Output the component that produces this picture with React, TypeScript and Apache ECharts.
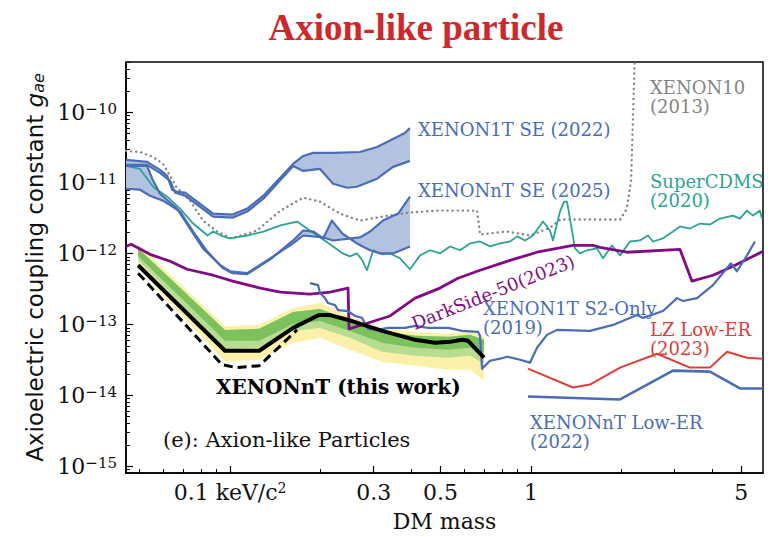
import React, { useEffect, useRef } from 'react';
import * as echarts from 'echarts';

type P = [number, number];

// ---- axis ranges (keV/c^2, g_ae) ----
const X_MIN = 0.0451;
const X_MAX = 5.9;
const Y_MIN = 7.98e-16;
const Y_MAX = 5.12e-10;
const X_MAJOR = [0.1, 0.3, 0.5, 1, 5];
const X_MINOR = [0.05, 0.06, 0.07, 0.08, 0.09, 0.2, 0.4, 0.6, 0.7, 0.8, 0.9, 2, 3, 4];
const Y_MAJOR_EXP = [-15, -14, -13, -12, -11, -10];

// ---- curves: [mass keV/c^2, g_ae] ----
const XENON1T_SE_UPPER: P[] = [
  [0.0451, 2.12e-11], [0.053, 1.99e-11], [0.0585, 1.53e-11], [0.0618, 1.26e-11], [0.0642, 8.03e-12],
  [0.0667, 7.52e-12], [0.0709, 7.29e-12], [0.0777, 5.45e-12], [0.0878, 3.69e-12], [0.102, 3.58e-12],
  [0.114, 4.34e-12], [0.129, 6.61e-12], [0.162, 1.86e-11], [0.175, 2.41e-11], [0.189, 2.66e-11],
  [0.22, 2.66e-11], [0.27, 2.74e-11], [0.308, 3.22e-11], [0.348, 4.18e-11], [0.381, 5.07e-11], [0.396, 5.96e-11],
];
const XENON1T_SE_LOWER: P[] = [
  [0.0451, 1.8e-11], [0.053, 1.8e-11], [0.0585, 1.39e-11], [0.0632, 1.07e-11], [0.0657, 7.29e-12],
  [0.0709, 6.61e-12], [0.0777, 4.94e-12], [0.0878, 3.35e-12], [0.102, 3.24e-12], [0.114, 3.94e-12],
  [0.129, 6.0e-12], [0.162, 1.74e-11], [0.175, 1.48e-11], [0.199, 1.58e-11], [0.22, 9.74e-12],
  [0.245, 8.56e-12], [0.264, 8.84e-12], [0.308, 1.15e-11], [0.348, 1.69e-11], [0.396, 2.05e-11],
];
const XENONNT_SE_UPPER: P[] = [
  [0.0451, 1.74e-11], [0.053, 1.74e-11], [0.0551, 1.15e-11], [0.0585, 7.05e-12], [0.0667, 4.34e-12],
  [0.0736, 2.27e-12], [0.0813, 1.19e-12], [0.0927, 6.87e-13], [0.1, 5.66e-13], [0.114, 5.31e-13],
  [0.136, 8.62e-13], [0.162, 1.4e-12], [0.175, 1.81e-12], [0.204, 1.7e-12], [0.22, 1.54e-12],
  [0.27, 1.7e-12], [0.292, 2.06e-12], [0.322, 2.94e-12], [0.362, 3.69e-12], [0.396, 6.4e-12],
];
const XENONNT_SE_LOWER: P[] = [
  [0.0451, 8.29e-12], [0.0502, 8.03e-12], [0.0542, 6.61e-12], [0.0599, 5.62e-12], [0.0682, 3.94e-12],
  [0.0754, 2.06e-12], [0.0839, 1.08e-12], [0.0948, 6.24e-13], [0.102, 5.31e-13], [0.114, 5.14e-13],
  [0.136, 8.34e-13], [0.162, 1.54e-12], [0.175, 2.13e-12], [0.189, 2.06e-12], [0.204, 1.65e-12],
  [0.218, 2.94e-12], [0.236, 1.93e-12], [0.264, 1.4e-12], [0.292, 1.12e-12], [0.315, 1.01e-12],
  [0.348, 1.01e-12], [0.396, 1.27e-12],
];
const XENON10: P[] = [
  [0.0451, 2.83e-11], [0.0502, 2.74e-11], [0.0555, 2.33e-11], [0.0599, 1.86e-11], [0.0632, 1.26e-11],
  [0.0662, 8.84e-12], [0.0736, 5.62e-12], [0.0813, 2.94e-12], [0.0905, 2.06e-12], [0.101, 1.65e-12],
  [0.123, 2.13e-12], [0.147, 4.07e-12], [0.175, 6.2e-12], [0.199, 5.45e-12], [0.232, 3.69e-12],
  [0.27, 2.94e-12], [0.322, 3.35e-12], [0.396, 3.82e-12], [0.487, 4.07e-12], [0.662, 4.07e-12],
  [0.677, 1.87e-12], [0.832, 2.06e-12], [0.992, 1.81e-12], [1.16, 2.35e-12], [1.25, 3.04e-12],
  [1.98, 3.04e-12], [2.08, 4.34e-12], [2.15, 1.07e-11], [2.18, 7.47e-11], [2.22, 1e-9],
];
const SUPERCDMS: P[] = [
  [0.0451, 1.74e-11], [0.0502, 1.58e-11], [0.0555, 8.84e-12], [0.0618, 6.4e-12], [0.0682, 4.34e-12],
  [0.0754, 2.67e-12], [0.0842, 1.81e-12], [0.0878, 2.06e-12], [0.0948, 1.76e-12], [0.1, 1.65e-12],
  [0.114, 1.81e-12], [0.129, 2.06e-12], [0.147, 2.51e-12], [0.167, 2.85e-12], [0.184, 2.13e-12],
  [0.195, 1.81e-12], [0.22, 1.27e-12], [0.237, 1.01e-12], [0.25, 9.19e-13], [0.264, 1.01e-12],
  [0.275, 8.08e-13], [0.285, 5.85e-13], [0.299, 1.12e-12], [0.322, 9.81e-13], [0.34, 1.01e-12],
  [0.367, 8.62e-13], [0.396, 6.04e-13], [0.428, 9.49e-13], [0.462, 1.12e-12], [0.498, 1.01e-12],
  [0.538, 1.27e-12], [0.581, 1.12e-12], [0.627, 1.4e-12], [0.677, 1.49e-12], [0.731, 1.27e-12],
  [0.789, 1.4e-12], [0.852, 1.49e-12], [0.899, 1.76e-12], [0.955, 1.54e-12], [1.015, 1.81e-12],
  [1.096, 2.85e-12], [1.156, 2.13e-12], [1.183, 1.54e-12], [1.248, 3.94e-12], [1.287, 5.45e-12],
  [1.317, 5.45e-12], [1.347, 3.14e-12], [1.4, 1.19e-12], [1.455, 1.01e-12], [1.535, 1.12e-12],
  [1.657, 1.19e-12], [1.735, 8.62e-13], [1.858, 1.31e-12], [1.976, 9.49e-13], [2.133, 1.49e-12],
  [2.302, 1.54e-12], [2.447, 1.81e-12], [2.543, 1.49e-12], [2.745, 1.65e-12], [2.963, 2.06e-12],
  [3.126, 2.43e-12], [3.375, 2.27e-12], [3.643, 2.67e-12], [3.933, 2.59e-12], [4.246, 3.14e-12],
  [4.69, 3.46e-12], [4.947, 3.14e-12], [5.219, 4.07e-12], [5.465, 3.46e-12], [5.765, 4.07e-12],
  [5.853, 3.14e-12],
];
const DARKSIDE50: P[] = [
  [0.0451, 1.27e-12], [0.0469, 1.36e-12], [0.0542, 9.81e-13], [0.0632, 7.82e-13], [0.072, 6.04e-13],
  [0.0878, 4.97e-13], [0.102, 4.1e-13], [0.126, 3.27e-13], [0.147, 2.87e-13], [0.184, 2.69e-13],
  [0.215, 2.87e-13], [0.2466, 3.27e-13], [0.2485, 8.68e-14], [0.287, 1.05e-13], [0.34, 1.32e-13],
  [0.412, 2.36e-13], [0.498, 3.27e-13], [0.572, 4.51e-13], [0.677, 5.85e-13], [0.832, 7.82e-13],
  [1.047, 1.05e-12], [1.379, 1.31e-12], [1.607, 1.31e-12], [1.695, 1.23e-12], [2.084, 1.05e-12],
  [3.126, 1.15e-12], [3.427, 4.1e-13], [4.024, 4.97e-13], [4.69, 6.65e-13], [5.9, 1.08e-12],
];
const XENON1T_S2: P[] = [
  [0.1844, 3.84e-13], [0.1961, 3.6e-13], [0.199, 2.78e-13], [0.2068, 2.36e-13], [0.2116, 2.01e-13],
  [0.2233, 1.88e-13], [0.2285, 1.6e-13], [0.2466, 1.55e-13], [0.2602, 1.32e-13], [0.2745, 1.24e-13],
  [0.2874, 8.68e-14], [0.3078, 8.4e-14], [0.335, 8.96e-14], [0.381, 8.96e-14], [0.412, 9.56e-14],
  [0.455, 8.96e-14], [0.53, 8.96e-14], [0.59, 8.13e-14], [0.667, 7.87e-14], [0.677, 6.92e-14],
  [0.6875, 2.38e-14], [0.7305, 3.08e-14], [0.789, 3.29e-14], [0.832, 3.51e-14], [0.919, 3.18e-14],
  [0.992, 2.89e-14], [1.047, 4.69e-14], [1.13, 7.14e-14], [1.22, 8.4e-14], [1.57, 8.13e-14],
  [1.873, 9.87e-14], [2.25, 1.36e-13], [2.356, 1.24e-13], [2.745, 1.55e-13], [3.055, 2.36e-13],
  [3.199, 2.15e-13], [3.561, 2.36e-13], [4.024, 3.6e-13], [4.617, 7.33e-13], [4.834, 5.66e-13],
  [5.219, 9.49e-13], [5.548, 1.49e-12],
];
const LZ_LOW_ER: P[] = [
  [0.977, 2.38e-14], [1.379, 1.29e-14], [1.57, 1.42e-14], [1.976, 2.46e-14], [2.622, 3.86e-14],
  [3.375, 2.46e-14], [3.933, 2.46e-14], [4.479, 4.12e-14], [5.219, 3.4e-14], [5.9, 3.29e-14],
];
const XENONNT_LOW_ER: P[] = [
  [0.977, 9.62e-15], [1.976, 8.73e-15], [2.963, 2.23e-14], [3.933, 2.16e-14], [4.947, 1.25e-14], [5.9, 1.25e-14],
];
const THIS_WORK: P[] = [
  [0.0495, 6.87e-13], [0.0962, 4.26e-14], [0.125, 4.26e-14], [0.162, 8.96e-14], [0.1975, 1.36e-13],
  [0.215, 1.36e-13], [0.247, 1.16e-13], [0.32, 8.13e-14], [0.412, 6.08e-14], [0.48, 5.51e-14],
  [0.538, 5.69e-14], [0.59, 6.08e-14], [0.618, 5.89e-14], [0.698, 3.4e-14],
];
const THIS_WORK_DASHED: P[] = [
  [0.0495, 5.31e-13], [0.094, 2.71e-14], [0.105, 2.46e-14], [0.125, 2.62e-14], [0.167, 8.4e-14],
];
// sensitivity bands of this work
const BAND_MASS = [0.0495, 0.0962, 0.125, 0.162, 0.199, 0.25, 0.32, 0.412, 0.53, 0.627, 0.698];
const YELLOW_HI = [1.36e-12, 9.56e-14, 9.87e-14, 1.71e-13, 2.01e-13, 1.32e-13, 8.96e-14, 7.87e-14, 7.38e-14, 8.13e-14, 6.92e-14];
const GREEN_HI = [1.19e-12, 8.4e-14, 8.68e-14, 1.5e-13, 1.66e-13, 1.16e-13, 8.13e-14, 6.92e-14, 6.7e-14, 7.14e-14, 6.08e-14];
const DARK_LO = [9.19e-13, 5.89e-14, 5.89e-14, 1.02e-13, 1.12e-13, 8.13e-14, 5.51e-14, 4.69e-14, 4.4e-14, 4.69e-14, 3.99e-14];
const GREEN_LO = [8.08e-13, 4.4e-14, 4.69e-14, 8.13e-14, 8.96e-14, 6.48e-14, 4.12e-14, 3.62e-14, 3.4e-14, 3.62e-14, 2.8e-14];
const YELLOW_LO = [6.24e-13, 2.98e-14, 3.18e-14, 5.51e-14, 6.48e-14, 4.4e-14, 2.98e-14, 2.62e-14, 2.3e-14, 2.3e-14, 1.61e-14];

const BLUE = '#4a6db5';
const BLUE_FILL = '#b4c2e2';
const TEAL = '#2ca394';
const PURPLE = '#820a82';
const GRAY = '#858585';
const RED = '#da4038';
const SERIF = '"DejaVu Serif", serif';
const SANS = '"DejaVu Sans", sans-serif';

const lg = (p: P) => [Math.log10(p[0]), Math.log10(p[1])];
const zip = (a: number[], b: number[]): P[] => a.map((m, i) => [m, b[i]]);

function lineSeries(data: P[], color: string, width: number, type: any = 'solid', z = 3, cap = 'butt') {
  return {
    type: 'line', data: data.map(lg), showSymbol: false, symbol: 'none', silent: true, z,
    clip: true, lineStyle: { color, width, type, cap, join: 'round' },
  };
}

function polySeries(upper: P[], lower: P[], fill: string, z = 1) {
  const pts = [...upper, ...lower.slice().reverse()].map(lg);
  return {
    type: 'custom', coordinateSystem: 'cartesian2d', xAxisIndex: 0, yAxisIndex: 0, silent: true, z,
    data: [pts[0]],
    renderItem: (_p: any, api: any) => ({
      type: 'polygon',
      shape: { points: pts.map((q) => api.coord(q)) },
      style: { fill, stroke: 'none', lineWidth: 0 },
    }),
  };
}

function minorY(): number[] {
  const out: number[] = [];
  for (let d = -16; d <= -10; d++) {
    for (let k = 2; k <= 9; k++) {
      const v = k * Math.pow(10, d);
      if (v > Y_MIN && v < Y_MAX) out.push(Math.log10(v));
    }
  }
  return out;
}

function txt(x: number, y: number, text: string, fill: string, size = 18, extra: any = {}) {
  return {
    type: 'text', x, y, z: 10, silent: true,
    style: { text, fill, fontFamily: SERIF, fontSize: size, align: 'left', verticalAlign: 'top', lineHeight: 19, ...extra },
  };
}

export default function App() {
  const ref = useRef<HTMLDivElement>(null);
  useEffect(() => {
    document.body.style.margin = '0';
    const chart = echarts.init(ref.current!, null, { renderer: 'svg' });
    const lx0 = Math.log10(X_MIN), lx1 = Math.log10(X_MAX);
    const ly0 = Math.log10(Y_MIN), ly1 = Math.log10(Y_MAX);
    const xMajor = X_MAJOR.map(Math.log10);
    const xMinor = X_MINOR.map(Math.log10);
    const yMajor = Y_MAJOR_EXP.slice();
    const yMinor = minorY();

    const option: any = {
      animation: false,
      backgroundColor: '#fff',
      grid: { left: 126, right: 10, top: 62, bottom: 61, show: true, borderColor: '#000', borderWidth: 1.5, backgroundColor: 'transparent' },
      xAxis: [
        {
          type: 'value', min: lx0, max: lx1, position: 'bottom',
          axisLine: { show: true, onZero: false, lineStyle: { color: '#000', width: 1.5 } },
          splitLine: { show: false },
          axisTick: { show: true, inside: true, length: 7, lineStyle: { color: '#000', width: 1.2 }, customValues: xMajor },
          axisLabel: {
            customValues: xMajor, margin: 8, color: '#111', fontFamily: SERIF, fontSize: 22,
            formatter: (v: number) => {
              const m = Math.pow(10, v);
              if (Math.abs(m - 0.1) < 1e-6) return '0.1 keV/c{sup|2}';
              return String(+m.toPrecision(3));
            },
            rich: { sup: { fontSize: 14, verticalAlign: 'top', lineHeight: 12, fontFamily: SERIF, color: '#111' } },
          },
          name: 'DM mass', nameLocation: 'middle', nameGap: 37,
          nameTextStyle: { fontFamily: SERIF, fontSize: 22, color: '#111' },
        },
        {
          type: 'value', min: lx0, max: lx1, position: 'bottom',
          axisLine: { show: false, onZero: false }, splitLine: { show: false }, axisLabel: { show: false },
          axisTick: { show: true, inside: true, length: 4, lineStyle: { color: '#000', width: 1 }, customValues: xMinor },
        },
      ],
      yAxis: [
        {
          type: 'value', min: ly0, max: ly1, position: 'left',
          axisLine: { show: true, onZero: false, lineStyle: { color: '#000', width: 1.5 } },
          splitLine: { show: false },
          axisTick: { show: true, inside: true, length: 7, lineStyle: { color: '#000', width: 1.2 }, customValues: yMajor },
          axisLabel: {
            customValues: yMajor, margin: 9, color: '#111', fontFamily: SERIF, fontSize: 22,
            formatter: (v: number) => `10{s|\u2212${Math.round(-v)}}`,
            rich: { s: { fontSize: 15, verticalAlign: 'top', lineHeight: 12, fontFamily: SERIF, color: '#111' } },
          },
          name: 'Axioelectric coupling constant {g|g}{sub|ae}', nameLocation: 'middle', nameGap: 76,
          nameTextStyle: {
            fontFamily: SANS, fontSize: 23, color: '#111',
            rich: {
              g: { fontFamily: SANS, fontSize: 23, fontStyle: 'italic', color: '#111' },
              sub: { fontFamily: SANS, fontSize: 16, fontStyle: 'italic', verticalAlign: 'bottom', lineHeight: 22, color: '#111' },
            },
          },
        },
        {
          type: 'value', min: ly0, max: ly1, position: 'left',
          axisLine: { show: false, onZero: false }, splitLine: { show: false }, axisLabel: { show: false },
          axisTick: { show: true, inside: true, length: 4, lineStyle: { color: '#000', width: 1 }, customValues: yMinor },
        },
      ],
      series: [
        polySeries(zip(BAND_MASS, YELLOW_HI), zip(BAND_MASS, YELLOW_LO), '#fbf0a9', 1),
        polySeries(zip(BAND_MASS, GREEN_HI), zip(BAND_MASS, GREEN_LO), '#b8dd92', 1),
        polySeries(zip(BAND_MASS, GREEN_HI), zip(BAND_MASS, DARK_LO), '#7cc25c', 1),
        polySeries(XENON1T_SE_UPPER, XENON1T_SE_LOWER, BLUE_FILL, 1),
        polySeries(XENONNT_SE_UPPER, XENONNT_SE_LOWER, BLUE_FILL, 1),
        lineSeries(XENON10, GRAY, 2.4, [0.1, 5], 2, 'round'),
        lineSeries(SUPERCDMS, TEAL, 1.8, 'solid', 3),
        lineSeries(XENON1T_SE_UPPER, BLUE, 2.2, 'solid', 4),
        lineSeries(XENON1T_SE_LOWER, BLUE, 2.2, 'solid', 4),
        lineSeries(XENONNT_SE_UPPER, BLUE, 2.2, 'solid', 4),
        lineSeries(XENONNT_SE_LOWER, BLUE, 2.2, 'solid', 4),
        lineSeries(DARKSIDE50, PURPLE, 2.8, 'solid', 4),
        lineSeries(XENON1T_S2, BLUE, 2.2, 'solid', 4),
        lineSeries(LZ_LOW_ER, RED, 2, 'solid', 4),
        lineSeries(XENONNT_LOW_ER, BLUE, 2.6, 'solid', 4),
        lineSeries(THIS_WORK_DASHED, '#000', 3, [9, 5], 5),
        lineSeries(THIS_WORK, '#000', 4, 'solid', 6),
      ],
      graphic: [
        {
          type: 'text', x: 416, y: 27, z: 10, silent: true,
          style: { text: 'Axion-like particle', fill: '#d0282a', fontFamily: '"Liberation Serif", serif', fontWeight: 'bold', fontSize: 37, align: 'center', verticalAlign: 'middle' },
        },
        txt(650, 78, 'XENON10\n(2013)', GRAY),
        txt(418, 119.5, 'XENON1T SE (2022)', BLUE),
        txt(418, 181, 'XENONnT SE (2025)', BLUE),
        txt(650, 171.5, 'SuperCDMS\n(2020)', TEAL),
        txt(483, 298.5, 'XENON1T S2-Only\n(2019)', BLUE),
        txt(650, 319.5, 'LZ Low-ER\n(2023)', RED),
        txt(530, 412.5, 'XENONnT Low-ER\n(2022)', BLUE),
        txt(216, 377, 'XENONnT (this work)', '#000', 20, { fontWeight: 'bold', lineHeight: 20 }),
        txt(163, 429.5, '(e): Axion-like Particles', '#111', 21, { lineHeight: 21 }),
        {
          type: 'text', x: 493, y: 292, rotation: (21.5 * Math.PI) / 180, z: 10, silent: true,
          style: { text: 'DarkSide-50(2023)', fill: PURPLE, fontFamily: SERIF, fontSize: 18, align: 'center', verticalAlign: 'middle' },
        },
      ],
    };
    chart.setOption(option);
    return () => chart.dispose();
  }, []);
  return <div ref={ref} style={{ width: 773, height: 537 }} />;
}
